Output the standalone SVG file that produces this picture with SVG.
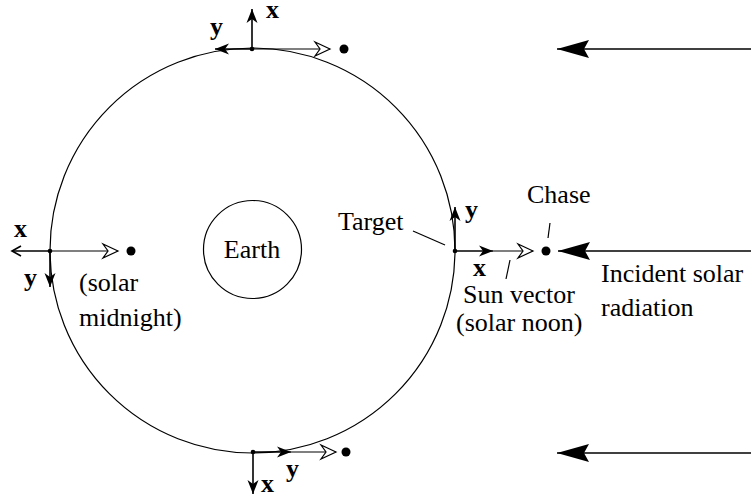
<svg xmlns="http://www.w3.org/2000/svg" width="751" height="497" viewBox="0 0 751 497">
<style>
text{font-family:"Liberation Serif","Times New Roman",serif;font-size:26px;fill:#000}
.ax{font-weight:bold}
.orbit{fill:none;stroke:#000;stroke-width:1.2}
.axis{fill:none;stroke:#000;stroke-width:1.6}
.thin{fill:none;stroke:#000;stroke-width:1.2}
.dot{fill:#000}
</style>
<defs>
<marker id="fill" markerUnits="userSpaceOnUse" markerWidth="20" markerHeight="16" viewBox="-16 -8 20 16" refX="0" refY="0" orient="auto">
<path d="M0,0 L-14,-5.5 L-10,0 L-14,5.5 Z" fill="#000"/>
</marker>
<marker id="open" markerUnits="userSpaceOnUse" markerWidth="22" markerHeight="20" viewBox="-18 -10 22 20" refX="0" refY="0" orient="auto">
<path d="M0,0 L-15,-7 L-10,0 L-15,7 Z" fill="#fff" stroke="#000" stroke-width="1.2"/>
</marker>
<marker id="vee" markerUnits="userSpaceOnUse" markerWidth="14" markerHeight="14" viewBox="-12 -7 14 14" refX="0" refY="0" orient="auto">
<path d="M-9,-5 L0,0 L-9,5" fill="none" stroke="#000" stroke-width="1.6"/>
</marker>
<marker id="sun" markerUnits="userSpaceOnUse" markerWidth="40" markerHeight="24" viewBox="-36 -12 40 24" refX="0" refY="0" orient="auto">
<path d="M0,0 L-32,-9 L-27,0 L-32,9 Z" fill="#000"/>
</marker>
</defs>

<g id="orbit"><circle class="orbit" cx="252.5" cy="250.5" r="202.5"/></g>
<g id="earth">
<circle class="orbit" cx="252.5" cy="249.5" r="49"/>
<text x="252" y="258" text-anchor="middle">Earth</text>
</g>

<g id="top-frame">
<circle class="dot" cx="252" cy="49" r="2.3"/>
<circle class="dot" cx="344" cy="49" r="4.5"/>
<text class="ax" x="266" y="18">x</text>
<text class="ax" x="210" y="35">y</text>
</g>
<g id="left-frame">
<circle class="dot" cx="50" cy="251" r="2.3"/>
<circle class="dot" cx="131" cy="251" r="4.5"/>
<text class="ax" x="14" y="237">x</text>
<text class="ax" x="24" y="286">y</text>
<text x="79" y="291">(solar</text>
<text x="79" y="326">midnight)</text>
</g>
<g id="right-frame">
<circle class="dot" cx="455" cy="251" r="2.3"/>
<circle class="dot" cx="546" cy="251" r="4.5"/>
<text class="ax" x="465" y="218">y</text>
<text class="ax" x="473" y="276">x</text>
<text x="338" y="230">Target</text>
<text x="527" y="203">Chase</text>
<text x="463" y="303">Sun vector</text>
<text x="456" y="331">(solar noon)</text>
</g>
<g id="bottom-frame">
<circle class="dot" cx="253" cy="452" r="2.3"/>
<circle class="dot" cx="346" cy="452" r="4.5"/>
<text class="ax" x="261" y="492">x</text>
<text class="ax" x="286" y="477">y</text>
</g>
<g id="radiation">
<text x="601" y="282">Incident solar</text>
<text x="601" y="316">radiation</text>
</g>

<g id="connectors">
<path class="axis" d="M252,49 V9" marker-end="url(#fill)"/>
<path class="axis" d="M252,49 H215" marker-end="url(#fill)"/>
<path class="thin" d="M252,49 H330" marker-end="url(#open)"/>

<path class="axis" d="M50,251 H12" marker-end="url(#vee)"/>
<path class="axis" d="M50,251 V287" marker-end="url(#fill)"/>
<path class="thin" d="M50,251 H118" marker-end="url(#open)"/>

<path class="axis" d="M455,251 V207" marker-end="url(#fill)"/>
<path class="axis" d="M455,251 H493" marker-end="url(#fill)"/>
<path class="thin" d="M493,251 H533" marker-end="url(#open)"/>

<path class="axis" d="M253,452 V494" marker-end="url(#fill)"/>
<path class="axis" d="M253,452 H291" marker-end="url(#fill)"/>
<path class="thin" d="M291,452 H336" marker-end="url(#open)"/>

<path class="thin" d="M413,231 L445,245"/>
<path class="thin" d="M550,223 L548,238"/>
<path class="thin" d="M510,260 L506,279"/>

<path class="axis" d="M751,49 H557" marker-end="url(#sun)"/>
<path class="axis" d="M751,251 H558" marker-end="url(#sun)"/>
<path class="axis" d="M751,453 H557" marker-end="url(#sun)"/>
</g>
</svg>
